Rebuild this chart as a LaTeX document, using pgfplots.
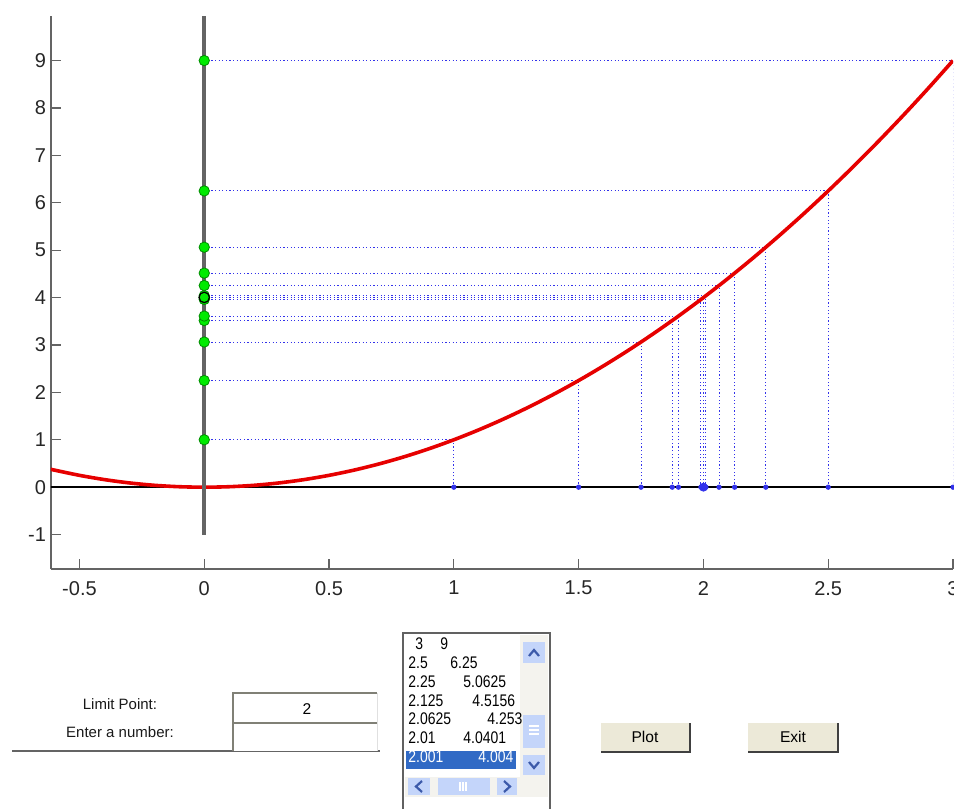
\documentclass[border=0pt]{standalone}
\usepackage{fontspec}
\setmainfont{Liberation Sans}
\newfontfamily\narrowfont[FakeStretch=0.83]{Liberation Sans}
\usepackage{pgfplots}
\usepackage{pgfplotstable}
\pgfplotsset{compat=1.18}

\definecolor{guiborder}{RGB}{128,128,118}
\definecolor{btnface}{RGB}{236,233,216}
\definecolor{trackface}{RGB}{244,243,238}
\definecolor{selblue}{RGB}{49,106,197}
\definecolor{scrollblue}{RGB}{196,213,250}
\definecolor{chevron}{RGB}{60,90,170}
\definecolor{axgray}{RGB}{100,100,100}
\definecolor{dotblue}{RGB}{50,50,235}
\definecolor{mgreen}{RGB}{0,235,0}
\definecolor{mred}{RGB}{230,0,0}

\pgfplotstableread{
x y z
3 9 0
2.5 6.25 0
2.25 5.0625 0
2.125 4.515625 0
2.0625 4.25390625 0
2.01 4.0401 0
2.001 4.004001 0
1 1 0
1.5 2.25 0
1.75 3.0625 0
1.875 3.515625 0
1.9 3.61 0
1.99 3.9601 0
1.999 3.996001 0
}\sqdata

\pgfplotstableread{
x y
-0.62 0.3844
-0.6 0.36
-0.5 0.25
-0.4 0.16
-0.3 0.09
-0.2 0.04
-0.1 0.01
0 0
0.1 0.01
0.2 0.04
0.3 0.09
0.4 0.16
0.5 0.25
0.6 0.36
0.7 0.49
0.8 0.64
0.9 0.81
1.0 1
1.1 1.21
1.2 1.44
1.3 1.69
1.4 1.96
1.5 2.25
1.6 2.56
1.7 2.89
1.8 3.24
1.9 3.61
2.0 4
2.1 4.41
2.2 4.84
2.3 5.29
2.4 5.76
2.5 6.25
2.6 6.76
2.7 7.29
2.8 7.84
2.9 8.41
3.0 9
}\curvedata

\begin{document}
\begin{tikzpicture}
\path[use as bounding box] (0pt,0pt) rectangle (477pt,-404.5pt);
\clip (0pt,0pt) rectangle (477pt,-404.5pt);
\begin{axis}[
  at={(25.5pt,-284.5pt)}, anchor=south west,
  scale only axis, width=451pt, height=276.5pt,
  xmin=-0.614, xmax=3, ymin=-1.726, ymax=9.94,
  axis x line*=bottom, axis y line*=left,
  axis line style={axgray, line width=1pt, -},
  x axis line style={-}, y axis line style={-},
  xtick={-0.5,0,0.5,1,1.5,2,2.5,3},
  ytick={-1,0,1,2,3,4,5,6,7,8,9},
  tick align=inside, major tick length=5pt,
  tick style={axgray, line width=0.6pt},
  ticklabel style={font=\fontsize{10}{12}\selectfont, text=black!85},
  /pgf/number format/assume math mode=true,
  xticklabel style={yshift=-2.5pt},
  yticklabel style={xshift=1pt},
]
% dotted projection lines
\addplot[xcomb, dotblue, line width=0.5pt, dash pattern=on 0.6pt off 1.2pt] table[x=x, y=y] {\sqdata};
\addplot[ycomb, dotblue, line width=0.5pt, dash pattern=on 0.6pt off 1.2pt] table[x=x, y=y] {\sqdata};
% y = 0 line
\addplot[black, line width=1pt] coordinates {(-0.7,0) (3.1,0)};
% parabola
\addplot[mred, line width=1.8pt, smooth] table[x=x, y=y] {\curvedata};
% gray vertical line at x = 0
\addplot[axgray, line width=2pt] coordinates {(0,-1) (0,10)};
% marks on the x axis
\addplot[only marks, mark=*, mark size=1.1pt, dotblue, mark options={draw=dotblue, fill=dotblue}] table[x=x, y=z] {\sqdata};
\addplot[only marks, mark=*, mark size=2pt, dotblue] coordinates {(2,0)};
% green dots on the y axis
\addplot[only marks, mark=*, mark size=2.6pt, mark options={draw=green!55!black, fill=mgreen, line width=0.4pt}] table[x=z, y=y] {\sqdata};
\addplot[only marks, mark=*, mark size=2.6pt, mark options={draw=black, fill=mgreen, line width=0.6pt}] coordinates {(0,4.004001)};
\end{axis}

\begin{scope}[x=0.5pt, y=-0.5pt]
% labels
\node[font=\fontsize{7.5}{9}\selectfont, text=black!90] at (120,704) {Limit Point:};
\node[font=\fontsize{7.5}{9}\selectfont, text=black!90] at (120,732) {Enter a number:};
\draw[axgray, line width=0.8pt] (12,751) -- (380,751);
% edit boxes
\fill[white] (233,693) rectangle (377,751);
\draw[guiborder, line width=1pt] (233,751) -- (233,693) -- (377,693);
\draw[guiborder, line width=1pt] (233,723) -- (377,723);
\draw[black!12, line width=0.5pt] (377,693) -- (377,751);
\node[font=\fontsize{7.8}{9}\selectfont] at (307,709) {2};
% listbox
\fill[white] (403,633) rectangle (550,820);
\fill[selblue] (406,751) rectangle (516,769);
\fill[trackface] (520,635) rectangle (548,777);
\fill[scrollblue] (523,642) rectangle (545,663);
\draw[chevron, line width=1.1pt] (529,656) -- (534,650) -- (539,656);
\fill[scrollblue] (523,715) rectangle (545,748);
\foreach \yy in {726,730,734} \draw[white, line width=0.6pt] (529,\yy) -- (539,\yy);
\fill[scrollblue] (523,755) rectangle (545,775);
\draw[chevron, line width=1.1pt] (529,762) -- (534,768) -- (539,762);
\fill[trackface] (405,777) rectangle (548,797);
\fill[scrollblue] (408,778) rectangle (430,795);
\draw[chevron, line width=1.1pt] (422,781) -- (416,786.5) -- (422,792);
\fill[scrollblue] (438,778) rectangle (490,795);
\foreach \xx in {460,463,466} \draw[white, line width=0.6pt] (\xx,782) -- (\xx,791);
\fill[scrollblue] (497,778) rectangle (517,795);
\draw[chevron, line width=1.1pt] (504,781) -- (510,786.5) -- (504,792);
\draw[black!62, line width=1.3pt] (403,633) rectangle (550,820);
\begin{scope}[every node/.style={font=\narrowfont\fontsize{8.4}{10}\selectfont, anchor=west, inner sep=0pt}]
\node at (415,644) {3};        \node at (440,644) {9};
\node at (408,662.8) {2.5};    \node at (450,662.8) {6.25};
\node at (408,681.6) {2.25};   \node at (463,681.6) {5.0625};
\node at (408,700.4) {2.125};  \node at (472,700.4) {4.5156};
\node at (408,719.2) {2.0625}; \node at (487,719.2) {4.253};
\node at (408,738) {2.01};     \node at (463,738) {4.0401};
\node[text=white] at (408,757) {2.001}; \node[text=white] at (478,757) {4.004};
\end{scope}
% buttons
\fill[btnface] (601,723) rectangle (690,752);
\draw[black!75, line width=1pt] (601,751.5) -- (690,751.5) -- (690,723);
\node[font=\fontsize{7.8}{9}\selectfont] at (645,737) {Plot};
\fill[btnface] (748,723) rectangle (838,752);
\draw[black!75, line width=1pt] (748,751.5) -- (838,751.5) -- (838,723);
\node[font=\fontsize{7.8}{9}\selectfont] at (793,737) {Exit};
\end{scope}
\end{tikzpicture}
\end{document}
